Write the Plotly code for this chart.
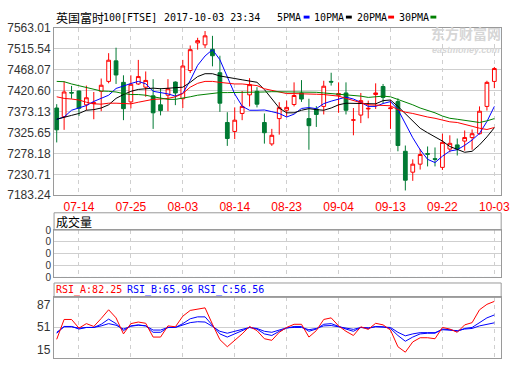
import plotly.graph_objects as go

# ---------------- data ----------------
dates = ["07-11", "07-12", "07-13", "07-14", "07-17", "07-18", "07-19", "07-20", "07-21", "07-24",
         "07-25", "07-26", "07-27", "07-28", "07-31", "08-01", "08-02", "08-03", "08-04", "08-07",
         "08-08", "08-09", "08-10", "08-11", "08-14", "08-15", "08-16", "08-17", "08-18", "08-21",
         "08-22", "08-23", "08-24", "08-25", "08-29", "08-30", "08-31", "09-01", "09-04", "09-05",
         "09-06", "09-07", "09-08", "09-11", "09-12", "09-13", "09-14", "09-15", "09-18", "09-19",
         "09-20", "09-21", "09-22", "09-25", "09-26", "09-27", "09-28", "09-29", "10-02", "10-03"]

open_ = [7381.0, 7361.4, 7416.0, 7419.5, 7388.2, 7391.0, 7418.8, 7441.3, 7487.8, 7439.1,
         7394.8, 7435.5, 7428.2, 7408.6, 7388.2, 7410.0, 7439.8, 7402.0, 7466.0, 7528.5,
         7524.1, 7514.0, 7460.9, 7348.2, 7327.9, 7368.6, 7410.8, 7418.8, 7348.2, 7299.6,
         7357.0, 7375.9, 7389.0, 7415.1, 7357.0, 7378.8, 7384.6, 7441.3, 7410.0, 7415.1,
         7353.4, 7365.0, 7378.8, 7411.5, 7429.7, 7379.5, 7395.5, 7282.9, 7235.6, 7253.8,
         7277.8, 7266.2, 7246.5, 7288.0, 7297.4, 7306.1, 7314.1, 7322.8, 7384.6, 7441.3]
high = [7389.7, 7441.3, 7431.1, 7420.5, 7431.8, 7417.3, 7447.8, 7505.2, 7517.6, 7455.1,
        7455.1, 7490.0, 7463.8, 7446.4, 7426.0, 7446.4, 7441.3, 7490.0, 7522.7, 7540.1,
        7555.4, 7544.5, 7499.4, 7371.5, 7382.4, 7419.5, 7448.6, 7428.2, 7368.6, 7333.7,
        7394.1, 7397.7, 7439.1, 7444.2, 7402.0, 7385.3, 7442.7, 7460.9, 7439.1, 7439.1,
        7381.0, 7415.1, 7397.7, 7436.9, 7435.5, 7399.2, 7402.8, 7296.0, 7264.7, 7288.0,
        7293.8, 7291.6, 7322.8, 7319.2, 7311.9, 7330.1, 7332.3, 7384.6, 7442.7, 7474.0]
low = [7303.0, 7331.5, 7402.0, 7362.8, 7375.9, 7355.5, 7373.7, 7437.0, 7435.5, 7353.4,
       7380.2, 7433.3, 7406.4, 7333.7, 7364.3, 7373.7, 7387.5, 7381.0, 7460.2, 7513.2,
       7516.9, 7475.4, 7372.2, 7295.2, 7310.5, 7353.4, 7384.6, 7382.4, 7300.3, 7295.2,
       7320.7, 7361.4, 7384.6, 7394.8, 7286.5, 7338.1, 7366.4, 7431.8, 7370.1, 7366.4,
       7319.2, 7346.8, 7357.7, 7378.8, 7391.9, 7333.7, 7282.9, 7194.2, 7216.0, 7241.5,
       7248.7, 7248.7, 7240.7, 7280.7, 7273.4, 7284.3, 7286.5, 7320.7, 7375.2, 7426.0]
close = [7331.6, 7417.3, 7415.0, 7380.2, 7404.2, 7393.0, 7432.6, 7489.3, 7455.8, 7379.5,
         7434.7, 7452.2, 7443.5, 7370.1, 7375.2, 7424.6, 7415.1, 7476.2, 7513.2, 7533.6,
         7544.5, 7499.4, 7391.9, 7311.9, 7353.4, 7384.6, 7434.0, 7389.7, 7325.0, 7319.2,
         7381.7, 7382.4, 7409.3, 7401.3, 7341.0, 7366.4, 7430.4, 7439.8, 7413.7, 7375.9,
         7354.1, 7397.7, 7380.2, 7415.1, 7405.0, 7381.0, 7296.0, 7217.4, 7253.8, 7275.6,
         7276.3, 7264.7, 7303.2, 7301.0, 7288.0, 7314.1, 7322.8, 7373.7, 7439.1, 7470.4]
volume = [0] * 60  # the reference shows an empty volume panel (all ticks read "0")

ma5 = [7355.5, 7360.6, 7375.9, 7381.0, 7386.6, 7395.9, 7402.6, 7410.0, 7425.3, 7431.8,
       7436.5, 7441.3, 7435.9, 7418.8, 7415.9, 7413.0, 7407.9, 7414.3, 7443.4, 7477.7,
       7498.9, 7513.2, 7490.4, 7449.8, 7412.8, 7385.1, 7375.9, 7375.9, 7376.5, 7372.7,
       7368.6, 7360.6, 7367.1, 7380.0, 7382.0, 7379.5, 7390.9, 7396.5, 7400.8, 7405.7,
       7401.3, 7393.9, 7384.6, 7384.6, 7391.2, 7395.5, 7377.8, 7346.2, 7313.6, 7286.5,
       7264.7, 7257.4, 7271.8, 7283.5, 7286.5, 7296.4, 7308.5, 7323.5, 7350.4, 7384.6]
ma10 = [7355.5, 7359.2, 7364.3, 7368.6, 7375.9, 7377.3, 7381.0, 7388.2, 7402.8, 7411.5,
        7418.8, 7423.1, 7424.6, 7426.0, 7424.6, 7426.0, 7426.8, 7428.2, 7439.1, 7452.2,
        7458.7, 7458.7, 7453.6, 7450.0, 7447.8, 7444.9, 7442.8, 7439.3, 7422.8, 7400.8,
        7381.0, 7370.1, 7370.1, 7375.9, 7379.5, 7377.3, 7375.9, 7381.0, 7388.2, 7391.9,
        7391.9, 7390.4, 7391.9, 7390.4, 7397.7, 7399.1, 7384.6, 7368.6, 7351.9, 7335.2,
        7325.0, 7315.6, 7306.1, 7293.8, 7286.5, 7280.7, 7282.9, 7297.4, 7315.6, 7336.4]
ma20 = [7406.4, 7402.8, 7401.3, 7399.1, 7394.1, 7390.4, 7389.7, 7391.9, 7391.9, 7390.4,
        7390.4, 7394.1, 7397.7, 7400.6, 7401.3, 7402.8, 7406.4, 7413.7, 7428.2, 7436.9,
        7441.3, 7441.3, 7439.1, 7436.9, 7435.5, 7435.5, 7434.0, 7431.8, 7424.6, 7420.9,
        7416.6, 7413.7, 7413.7, 7413.7, 7413.7, 7412.2, 7411.5, 7410.0, 7407.9, 7402.8,
        7397.7, 7391.9, 7388.2, 7387.5, 7387.5, 7386.1, 7377.3, 7371.5, 7368.6, 7364.3,
        7360.6, 7357.7, 7353.4, 7349.7, 7348.2, 7344.6, 7339.6, 7335.2, 7332.3, 7336.8]
ma30 = [7441.3, 7440.6, 7435.5, 7431.1, 7426.8, 7422.4, 7419.5, 7418.8, 7417.3, 7413.7,
        7411.5, 7411.5, 7410.0, 7406.4, 7402.8, 7400.6, 7400.6, 7402.8, 7406.4, 7410.0,
        7412.2, 7415.1, 7415.9, 7415.9, 7415.9, 7415.9, 7416.6, 7417.3, 7417.3, 7418.0,
        7418.0, 7417.3, 7416.6, 7416.6, 7416.6, 7416.6, 7415.1, 7413.7, 7412.2, 7410.0,
        7410.0, 7407.9, 7405.0, 7406.4, 7407.9, 7406.4, 7400.6, 7395.5, 7388.2, 7381.0,
        7375.9, 7370.1, 7362.8, 7357.7, 7355.5, 7353.4, 7349.7, 7348.2, 7351.9, 7357.0]

rsi_a = [36.8, 60.6, 60.6, 50.2, 55.6, 52.2, 61.8, 72.2, 62.5, 43.3,
         55.6, 57.5, 56.0, 39.5, 39.5, 52.9, 51.8, 64.5, 71.4, 73.3,
         74.5, 54.8, 36.4, 27.9, 35.6, 43.3, 52.2, 47.2, 37.5, 35.6,
         45.2, 51.0, 54.8, 54.8, 39.5, 47.2, 60.6, 62.5, 52.9, 46.4,
         41.4, 51.8, 48.7, 56.0, 54.1, 47.9, 27.9, 21.4, 33.7, 38.7,
         38.7, 37.5, 51.0, 49.1, 45.2, 54.1, 56.8, 72.2, 78.7, 82.25]
rsi_b = [44.1, 52.2, 52.2, 49.1, 51.0, 51.0, 54.8, 61.0, 55.6, 47.2,
         52.9, 54.1, 52.9, 45.2, 45.2, 51.0, 51.0, 55.6, 61.4, 63.7,
         63.7, 52.9, 43.3, 39.5, 43.3, 46.4, 51.0, 49.1, 43.3, 41.4,
         46.4, 50.2, 52.2, 52.2, 46.4, 49.1, 54.8, 55.6, 52.2, 49.1,
         46.4, 51.0, 49.8, 52.2, 51.8, 49.8, 41.4, 34.5, 39.5, 43.3,
         44.1, 44.1, 49.1, 48.3, 46.4, 49.8, 51.0, 56.8, 62.5, 65.96]
rsi_c = [45.2, 51.8, 51.8, 50.2, 51.0, 51.0, 52.9, 55.6, 53.7, 49.1,
         52.5, 53.7, 52.9, 47.9, 47.9, 51.0, 51.0, 54.1, 56.8, 57.9,
         57.5, 52.2, 46.4, 44.1, 46.4, 47.9, 51.0, 49.8, 46.4, 45.2,
         47.9, 50.6, 51.0, 51.0, 48.3, 49.8, 52.9, 53.3, 51.8, 50.2,
         48.7, 51.0, 50.6, 51.8, 51.8, 51.0, 45.2, 41.0, 43.3, 44.8,
         44.8, 44.8, 48.3, 47.9, 47.2, 49.1, 49.8, 52.9, 54.8, 56.56]

price_ticks = [7563.01, 7515.54, 7468.07, 7420.60, 7373.13, 7325.65, 7278.18, 7230.71, 7183.24]
price_tick_labels = ["7563.01", "7515.54", "7468.07", "7420.60", "7373.13",
                     "7325.65", "7278.18", "7230.71", "7183.24"]
date_ticks = ["07-14", "07-25", "08-03", "08-14", "08-23", "09-04", "09-13", "09-22", "10-03"]
vol_ticks = [0, 1, 2, 3, 4]
vol_tick_labels = ["0", "0", "0", "0", "0"]
rsi_ticks = [87, 51, 15]
rsi_tick_labels = ["87", "51", "15"]

title_name = "英国富时"
title_code = "100[FTSE]"
title_time = "2017-10-03 23:34"
ma_names = ["5PMA", "10PMA", "20PMA", "30PMA"]
ma_colors = ["#0000FF", "#000000", "#FF0000", "#008000"]
rsi_names = ["RSI_A", "RSI_B", "RSI_C"]
rsi_colors = ["#FF0000", "#0000FF", "#0000FF"]
vol_title = "成交量"

# ---------------- figure ----------------
W, H = 520, 365


def px(x):
    return x / W


def py(y):
    return 1 - y / H


xi = list(range(len(dates)))
tickpos = [dates.index(d) for d in date_ticks]
XL, XR = 55, 510

UP = "#FF0000"
DOWN = "#007A33"
GRID = "#CFCFCF"
BORDER = "#9A9A9A"

fig = go.Figure()

for vals, col in zip([ma5, ma10, ma20, ma30], ma_colors):
    fig.add_trace(go.Scatter(x=xi, y=vals, mode="lines", line=dict(color=col, width=1),
                             hoverinfo="skip", showlegend=False, xaxis="x", yaxis="y"))

fig.add_trace(go.Candlestick(
    x=xi, open=open_, high=high, low=low, close=close,
    increasing=dict(line=dict(color=UP, width=1), fillcolor="#FFFFFF"),
    decreasing=dict(line=dict(color=DOWN, width=1), fillcolor=DOWN),
    whiskerwidth=0, hoverinfo="skip", showlegend=False, xaxis="x", yaxis="y"))

fig.add_trace(go.Bar(x=xi, y=volume, marker_color=DOWN, hoverinfo="skip",
                     showlegend=False, xaxis="x2", yaxis="y2"))

for vals, col in zip([rsi_c, rsi_b, rsi_a], [rsi_colors[2], rsi_colors[1], rsi_colors[0]]):
    fig.add_trace(go.Scatter(x=xi, y=vals, mode="lines", line=dict(color=col, width=1),
                             hoverinfo="skip", showlegend=False, xaxis="x3", yaxis="y3"))

xr = [-0.358, 59.92]
xcommon = dict(range=xr, tickvals=tickpos, ticktext=date_ticks, showgrid=True,
               gridcolor=GRID, griddash="4px,4px", gridwidth=1, zeroline=False,
               showline=True, linecolor=BORDER, linewidth=1, mirror=True, ticks="",
               domain=[px(XL), px(XR)], fixedrange=True)

fig.update_layout(
    width=W, height=H, margin=dict(l=0, r=0, t=0, b=0),
    paper_bgcolor="white", plot_bgcolor="white", showlegend=False,
    font=dict(family="Liberation Sans, Arial", size=12, color="#333333"),
    boxgap=0.28,
    xaxis=dict(**xcommon, anchor="y", rangeslider=dict(visible=False),
               tickfont=dict(color="#FF0000", size=12, family="Liberation Sans, Arial")),
    yaxis=dict(domain=[py(195.8), py(21.5)], range=[price_ticks[-1], price_ticks[0]],
               tickvals=price_ticks, ticktext=price_tick_labels, showgrid=True,
               gridcolor=GRID, gridwidth=1, zeroline=False, showline=True,
               linecolor=BORDER, mirror=True, ticks="", anchor="x",
               tickfont=dict(size=12, color="#333333")),
    xaxis2=dict(**xcommon, anchor="y2", showticklabels=False),
    yaxis2=dict(domain=[py(281), py(232)], range=[0, 4], tickvals=vol_ticks,
                ticktext=vol_tick_labels, showgrid=True, gridcolor=GRID, zeroline=False,
                showline=True, linecolor=BORDER, mirror=True, ticks="", anchor="x2",
                tickfont=dict(size=10, color="#333333")),
    xaxis3=dict(**xcommon, anchor="y3", showticklabels=False),
    yaxis3=dict(domain=[py(364.5), py(302)], range=[rsi_ticks[2], rsi_ticks[0]],
                tickvals=[rsi_ticks[1]], showticklabels=False, showgrid=True,
                gridcolor=GRID, zeroline=False, showline=True, linecolor=BORDER,
                mirror=True, ticks="", anchor="x3"),
)

shapes = []
# header boxes of the two lower panels
for y0, y1 in [(214, 232), (287, 302)]:
    shapes.append(dict(type="rect", xref="paper", yref="paper", x0=px(XL), x1=px(XR),
                       y0=py(y1), y1=py(y0), line=dict(color=BORDER, width=1),
                       fillcolor="rgba(0,0,0,0)", layer="above"))

ann = []
mono = "DejaVu Sans Mono, Liberation Mono, monospace"
cjk = "Noto Sans CJK SC"
# title
ann.append(dict(x=px(56), y=py(10.5), text=title_name, xanchor="left", yanchor="middle",
                font=dict(family=cjk, size=12, color="#000")))
ann.append(dict(x=px(104), y=py(10.5), text=title_code, xanchor="left", yanchor="middle",
                font=dict(family=mono, size=10, color="#000")))
ann.append(dict(x=px(166), y=py(10.5), text=title_time, xanchor="left", yanchor="middle",
                font=dict(family=mono, size=10, color="#000")))
# MA legend
leg_x = [281, 319, 362, 405]
mark_x = [309, 352, 395, 438]
for name, col, lx, mx in zip(ma_names, ma_colors, leg_x, mark_x):
    ann.append(dict(x=px(lx), y=py(10.5), text=name, xanchor="left", yanchor="middle",
                    font=dict(family=mono, size=10, color="#000")))
    shapes.append(dict(type="rect", xref="paper", yref="paper", x0=px(mx), x1=px(mx + 6),
                       y0=py(12), y1=py(9), line=dict(width=0), fillcolor=col))
# watermark
ann.append(dict(x=px(474), y=py(38), text="<b>东方财富网</b>", xanchor="center",
                yanchor="bottom", font=dict(family=cjk, size=14, color="#D6D6D6")))
ann.append(dict(x=px(474), y=py(38.5), text="<b><i>eastmoney.com</i></b>", xanchor="center",
                yanchor="top", font=dict(family="Liberation Sans, Arial", size=9,
                                         color="#D6D6D6")))
# volume header
ann.append(dict(x=px(56), y=py(223), text=vol_title, xanchor="left", yanchor="middle",
                font=dict(family=cjk, size=12, color="#000")))
# RSI header
rsi_last = [rsi_a[-1], rsi_b[-1], rsi_c[-1]]
for name, col, v, x0 in zip(rsi_names, rsi_colors, rsi_last, [56, 128, 200]):
    ann.append(dict(x=px(x0), y=py(294.5), text=f"{name}:{v:.2f}", xanchor="left",
                    yanchor="middle", font=dict(family=mono, size=10, color=col)))
# RSI tick labels (drawn inside the range like the reference)
for v, lab, anc in zip(rsi_ticks, rsi_tick_labels, ["top", "middle", "bottom"]):
    ann.append(dict(x=px(53), xref="paper", y=v, yref="y3", text=lab, xanchor="right",
                    yanchor=anc, font=dict(size=12, color="#333333")))

for a in ann:
    a.setdefault("xref", "paper")
    a.setdefault("yref", "paper")
    a["showarrow"] = False
    a["borderpad"] = 0

fig.update_layout(shapes=shapes, annotations=ann)
fig.write_html("out.html", config={"displayModeBar": False},
               post_script="document.body.style.margin='0';"
                           "document.body.style.overflow='hidden';")
